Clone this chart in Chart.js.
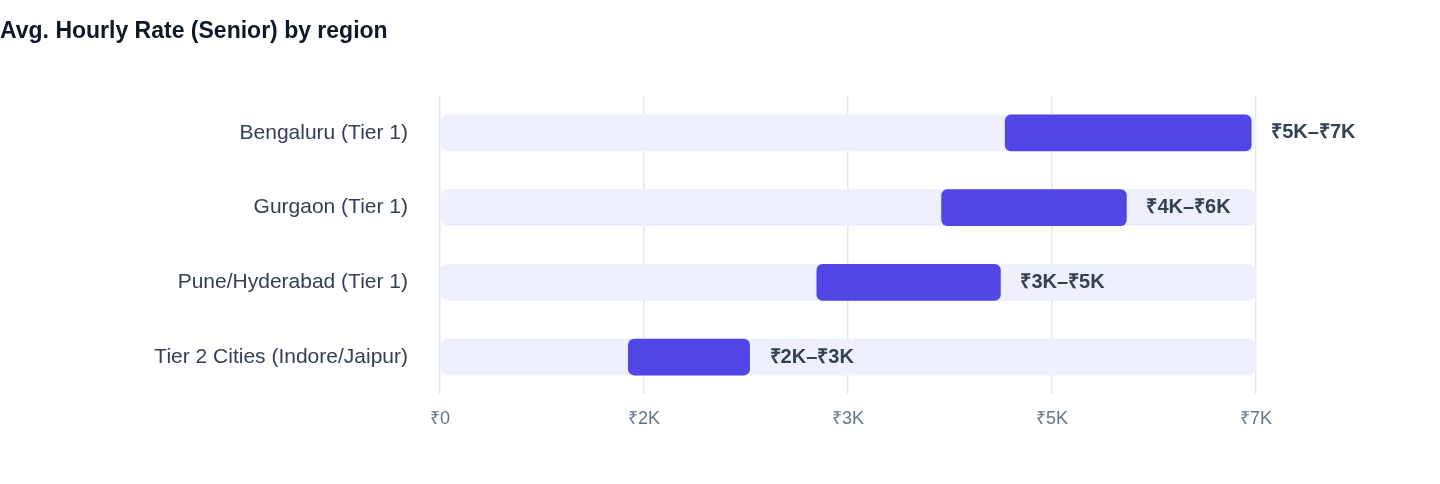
<!DOCTYPE html>
<html><head><meta charset="utf-8">
<script src="https://cdn.jsdelivr.net/npm/chart.js@4"></script>
<style>html,body{margin:0;padding:0;background:#fff;}#w{width:1440px;height:484px;}</style>
</head><body><div id="w"><canvas id="c"></canvas></div>
<script>
const regions = ["Bengaluru (Tier 1)","Gurgaon (Tier 1)","Pune/Hyderabad (Tier 1)","Tier 2 Cities (Indore/Jaipur)"];
const lowValues = [4710, 4180, 3140, 1570];
const highValues = [6760, 5720, 4670, 2580];
const rangeLabels = ["₹5K–₹7K","₹4K–₹6K","₹3K–₹5K","₹2K–₹3K"];
const axisMax = 6800;
const tickLabels = ["₹0","₹2K","₹3K","₹5K","₹7K"];
const FF = '"Liberation Sans", Arial, sans-serif';

const labelPlugin = {
  id:'rl',
  afterDatasetsDraw(chart){
    const ctx=chart.ctx; const meta=chart.getDatasetMeta(1);
    ctx.save(); ctx.font='bold 20px '+FF; ctx.fillStyle='#334155';
    ctx.textBaseline='middle'; ctx.textAlign='left';
    meta.data.forEach((b,i)=>{ ctx.fillText(rangeLabels[i], b.x+20, b.y); });
    ctx.restore();
  }
};
new Chart(document.getElementById('c'),{
  type:'bar',
  data:{labels:regions,datasets:[
    {data:regions.map(()=>[0,axisMax]),backgroundColor:'#eef1fd',borderRadius:8,borderSkipped:false,barThickness:36,grouped:false,order:2},
    {data:lowValues.map((v,i)=>[v,highValues[i]]),backgroundColor:'#4f46e5',borderRadius:6,borderSkipped:false,barThickness:36,grouped:false,order:1}
  ]},
  options:{
    indexAxis:'y',responsive:true,maintainAspectRatio:false,animation:false,
    layout:{padding:{left:0,right:184,top:0,bottom:40}},
    plugins:{legend:{display:false},tooltip:{enabled:false},
      title:{display:true,text:'Avg. Hourly Rate (Senior) by region',align:'start',color:'#0f172a',
        font:{size:23,weight:'bold',family:FF},padding:{top:18,bottom:50}}},
    scales:{
      x:{min:0,max:axisMax,afterBuildTicks(ax){ax.ticks=[0,1,2,3,4].map(i=>({value:i*axisMax/4}));},
        ticks:{callback:(v,i)=>tickLabels[i],color:'#64748b',font:{size:18,family:FF},padding:14},
        grid:{color:'#e2e8f0',lineWidth:1.5,drawTicks:false},border:{display:false}},
      y:{afterFit(ax){ax.width=440;},
        ticks:{color:'#334155',font:{size:21,family:FF},padding:24},
        grid:{display:false},border:{display:false}}
    }
  },
  plugins:[labelPlugin]
});
</script></body></html>
